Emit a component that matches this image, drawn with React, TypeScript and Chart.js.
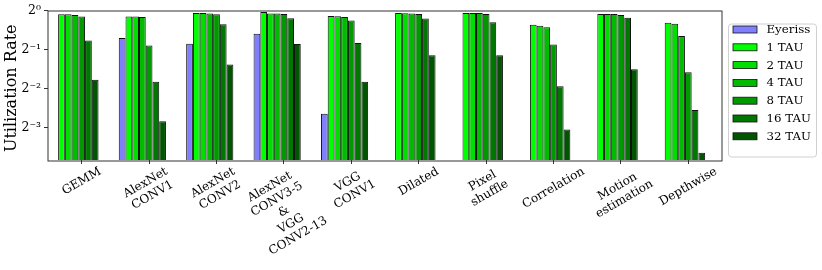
import React, { useEffect, useRef } from 'react';
import { Chart, registerables } from 'chart.js';

Chart.register(...registerables);

const categories = [
  'GEMM',
  'AlexNet\nCONV1',
  'AlexNet\nCONV2',
  'AlexNet\nCONV3-5\n&\nVGG\nCONV2-13',
  'VGG\nCONV1',
  'Dilated',
  'Pixel\nshuffle',
  'Correlation',
  'Motion\nestimation',
  'Depthwise',
];

const seriesNames = ['Eyeriss', '1 TAU', '2 TAU', '4 TAU', '8 TAU', '16 TAU', '32 TAU'];
const seriesColors = ['#8080ff', '#00ff00', '#00dd00', '#00bb00', '#009900', '#007700', '#005500'];

const eyeriss = [null, 0.613, 0.555, 0.662, 0.16, null, null, null, null, null];
const tau1 = [0.934, 0.897, 0.957, 0.974, 0.908, 0.957, 0.957, 0.775, 0.94, 0.803];
const tau2 = [0.934, 0.897, 0.957, 0.95, 0.902, 0.952, 0.957, 0.762, 0.94, 0.789];
const tau4 = [0.924, 0.892, 0.95, 0.95, 0.892, 0.95, 0.957, 0.743, 0.94, 0.635];
const tau8 = [0.897, 0.536, 0.934, 0.94, 0.836, 0.94, 0.94, 0.546, 0.924, 0.334];
const tau16 = [0.586, 0.282, 0.784, 0.871, 0.562, 0.866, 0.812, 0.261, 0.881, 0.171];
const tau32 = [0.292, 0.14, 0.384, 0.552, 0.282, 0.452, 0.452, 0.121, 0.352, 0.08];

const yTickValues = [1, 0.5, 0.25, 0.125];
const yTickLabels = ['2⁰', '2⁻¹', '2⁻²', '2⁻³'];
const yMin = 0.0703;
const yMax = 1;

const FONT = "'DejaVu Serif', serif";

export default function App() {
  const ref = useRef<HTMLCanvasElement>(null);

  useEffect(() => {
    if (!ref.current) return;
    const series = [eyeriss, tau1, tau2, tau4, tau8, tau16, tau32];
    const datasets: any[] = series.map((d, i) => ({
      label: seriesNames[i],
      data: d,
      backgroundColor: seriesColors[i],
      borderColor: '#111111',
      borderWidth: 1,
    }));
    // two empty slots so the group sits like the original (tick under 5th bar)
    for (let k = 0; k < 2; k++) {
      datasets.push({ label: '', data: categories.map(() => null), backgroundColor: 'rgba(0,0,0,0)', borderWidth: 0 });
    }

    const decor = {
      id: 'decor',
      afterDraw(chart: any) {
        const ctx = chart.ctx as CanvasRenderingContext2D;
        const a = chart.chartArea;
        ctx.save();
        // frame
        ctx.strokeStyle = '#333333';
        ctx.lineWidth = 1;
        ctx.strokeRect(Math.round(a.left), Math.round(a.top), Math.round(a.right - a.left), Math.round(a.bottom - a.top));

        // y title
        ctx.fillStyle = '#000';
        ctx.font = `16px ${FONT}`;
        ctx.textAlign = 'center';
        ctx.textBaseline = 'middle';
        ctx.save();
        ctx.translate(11.5, (a.top + a.bottom) / 2 + 3);
        ctx.rotate(-Math.PI / 2);
        ctx.fillText('Utilization Rate', 0, 0);
        ctx.restore();

        // x labels, rotated 30deg, centred under ticks
        const xs = chart.scales.x;
        const fs = 12;
        const pitch = 14.2;
        const th = (30 * Math.PI) / 180;
        ctx.font = `${fs}px ${FONT}`;
        categories.forEach((c, i) => {
          const lines = c.split('\n');
          const W = Math.max(...lines.map((l) => ctx.measureText(l).width));
          const H = lines.length * pitch;
          const bh = W * Math.sin(th) + H * Math.cos(th);
          const cx = xs.getPixelForTick(i);
          const cy = a.bottom + 4.5 + bh / 2;
          ctx.save();
          ctx.translate(cx, cy);
          ctx.rotate(-th);
          lines.forEach((l, j) => {
            ctx.fillText(l, 0, (j - (lines.length - 1) / 2) * pitch);
          });
          ctx.restore();
        });

        // legend
        const lx = a.right + 6;
        const ly = 23.5;
        const lw = 88;
        const lh = 133;
        ctx.beginPath();
        if ((ctx as any).roundRect) (ctx as any).roundRect(lx + 0.5, ly + 0.5, lw, lh, 3);
        else ctx.rect(lx + 0.5, ly + 0.5, lw, lh);
        ctx.fillStyle = 'rgba(255,255,255,0.8)';
        ctx.fill();
        ctx.strokeStyle = '#d0d0d0';
        ctx.stroke();
        ctx.font = `11.8px ${FONT}`;
        ctx.textAlign = 'left';
        ctx.textBaseline = 'middle';
        seriesNames.forEach((n, i) => {
          const y = 29.5 + i * 17.8;
          ctx.fillStyle = seriesColors[i];
          ctx.fillRect(lx + 5, y - 3.5, 24, 7);
          ctx.strokeStyle = '#111';
          ctx.lineWidth = 0.8;
          ctx.strokeRect(lx + 5, y - 3.5, 24, 7);
          ctx.fillStyle = '#000';
          ctx.fillText(n, lx + 38.5, y + 0.5);
        });
        ctx.restore();
      },
    };

    const chart = new Chart(ref.current, {
      type: 'bar',
      data: { labels: categories, datasets },
      options: {
        animation: false,
        responsive: true,
        maintainAspectRatio: false,
        layout: { padding: { left: 0, right: 100, top: 9, bottom: 0 } },
        plugins: { legend: { display: false }, tooltip: { enabled: false } },
        datasets: { bar: { categoryPercentage: 0.9, barPercentage: 1.0 } },
        scales: {
          x: {
            type: 'category',
            offset: true,
            grid: { offset: false, drawOnChartArea: false, drawTicks: true, tickLength: 4, color: '#333' },
            border: { display: false },
            ticks: { display: false },
            afterFit: (s: any) => {
              s.height = 110;
            },
          },
          y: {
            type: 'logarithmic',
            min: yMin,
            max: yMax,
            grid: { drawOnChartArea: false, drawTicks: true, tickLength: 4, color: '#333' },
            border: { display: false },
            afterBuildTicks: (s: any) => {
              s.ticks = yTickValues.map((v) => ({ value: v }));
            },
            ticks: {
              padding: 3,
              color: '#000',
              font: { family: FONT, size: 12.5 },
              autoSkip: false,
              callback: (_v: any, i: number) => yTickLabels[i],
            },
            afterFit: (s: any) => {
              s.width = 48;
            },
          },
        },
      },
      plugins: [decor],
    });
    return () => chart.destroy();
  }, []);

  return (
    <div style={{ position: 'fixed', left: 0, top: 0, width: 822, height: 270, background: '#fff' }}>
      <canvas ref={ref} />
    </div>
  );
}
